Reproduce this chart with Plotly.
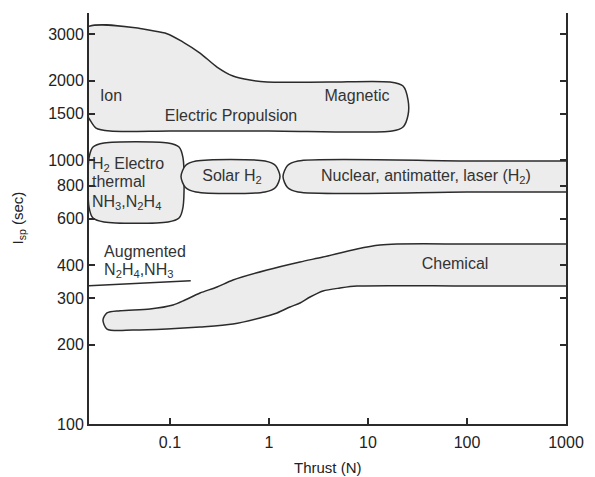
import plotly.graph_objects as go

# ---- data (thrust in N, Isp in sec) ----
electric_thrust = [0.01385, 0.0498, 0.0628, 0.0933, 0.1354, 0.201, 0.2985, 0.433, 0.643, 0.955, 4.0, 16.7,
                   22.6, 25.4, 25.4, 22.6, 17.5, 1.0, 0.1, 0.0248, 0.0179, 0.01556, 0.01385, 0.01385]
electric_isp = [3150, 3150, 3100, 3010, 2799, 2543, 2251, 2081, 2009, 1975, 1975, 1975,
                1907, 1688, 1481, 1334, 1288, 1288, 1288, 1288, 1322, 1418, 1547, 3150]

electro_thrust = [0.01521, 0.01669, 0.02156, 0.0955, 0.1234, 0.1354, 0.1354, 0.1234, 0.0955, 0.02156, 0.01669,
                  0.01521, 0.01521]
electro_isp = [1018, 1120, 1160, 1160, 1120, 1018, 663.7, 603, 582.3, 582.3, 603, 663.7, 1018]

solar_thrust = [0.1831, 0.9116, 1.164, 1.292, 1.164, 0.9116, 0.1831, 0.1434, 0.1292, 0.1434, 0.1831]
solar_isp = [991.3, 991.3, 953.2, 865.9, 786.7, 756.6, 756.6, 786.7, 865.9, 953.2, 991.3]

nuclear_thrust = [1.964, 100, 1000, 1500, 1500, 1000, 100, 1.964, 1.539, 1.385, 1.539, 1.964]
nuclear_isp = [991.3, 991.3, 991.3, 991.3, 756.6, 756.6, 756.6, 756.6, 786.7, 865.9, 953.2, 991.3]

chem_thrust = [0.02105, 0.0231, 0.0313, 0.0628, 0.1073, 0.1418, 0.201, 0.2985, 0.433, 0.955, 2.058, 3.51,
               7.74, 13.2, 19.6, 100, 1000, 1500, 1500, 1000, 100, 7.74, 5.22, 3.51, 2.60, 2.058, 1.63,
               1.205, 0.811, 0.433, 0.201, 0.0933, 0.0423, 0.0231, 0.02105]
chem_isp = [247.8, 263.4, 268.5, 272.7, 282.4, 294.9, 313.4, 330.3, 351.2, 383.1, 410.8, 429.1,
            460.2, 476.4, 480.6, 481, 481, 481, 333.2, 333.2, 333.2, 333.2, 327.5, 319.0, 302.7, 287.3, 277.5,
            263.4, 252.1, 239.2, 233.0, 229.0, 227.0, 229.0, 247.8]

augmented_thrust = [0.01521, 0.162]
augmented_isp = [334.2, 349.0]

x_tickvals = [0.1, 1, 10, 100, 1000]
x_ticktext = ["0.1", "1", "10", "100", "1000"]
y_tickvals = [100, 200, 300, 400, 600, 800, 1000, 1500, 2000, 3000]
y_ticktext = ["100", "200", "300", "400", "600", "800", "1000", "1500", "2000", "3000"]

label_left_text = ["Ion", "H<sub>2</sub> Electro", "thermal", "NH<sub>3</sub>,N<sub>2</sub>H<sub>4</sub>",
                   "Augmented", "N<sub>2</sub>H<sub>4</sub>,NH<sub>3</sub>"]
label_left_x = [0.0196, 0.0163, 0.0163, 0.0163, 0.0216, 0.0216]
label_left_y = [1732, 957, 818, 687, 445.6, 380.8]

label_center_text = ["Magnetic", "Electric Propulsion", "Solar H<sub>2</sub>",
                     "Nuclear, antimatter, laser (H<sub>2</sub>)", "Chemical"]
label_center_x = [7.74, 0.4133, 0.423, 38.5, 75.7]
label_center_y = [1732, 1455, 862, 862, 400.4]

x_title = "Thrust (N)"
y_title = "I<sub>sp</sub> (sec)"

FONT = "Liberation Sans, Arial, Helvetica, sans-serif"
LINE = "#2b2b2b"
FILL = "#ececec"

fig = go.Figure()

def region(xs, ys):
    fig.add_trace(go.Scatter(
        x=xs, y=ys, mode="lines", fill="toself", fillcolor=FILL,
        line=dict(color=LINE, width=1.5, shape="spline", smoothing=0.8),
        hoverinfo="skip", showlegend=False))

region(electric_thrust, electric_isp)
region(electro_thrust, electro_isp)
region(solar_thrust, solar_isp)
region(nuclear_thrust, nuclear_isp)
region(chem_thrust, chem_isp)

fig.add_trace(go.Scatter(x=augmented_thrust, y=augmented_isp, mode="lines",
                         line=dict(color=LINE, width=1.5), showlegend=False, hoverinfo="skip"))

fig.add_trace(go.Scatter(x=label_left_x, y=label_left_y, mode="text", text=label_left_text,
                         textposition="middle right", textfont=dict(family=FONT, size=16, color="#333"),
                         showlegend=False, hoverinfo="skip"))
fig.add_trace(go.Scatter(x=label_center_x, y=label_center_y, mode="text", text=label_center_text,
                         textposition="middle center", textfont=dict(family=FONT, size=16, color="#333"),
                         showlegend=False, hoverinfo="skip"))

axis_common = dict(showgrid=False, zeroline=False, showline=True, linecolor=LINE, linewidth=2,
                   ticks="inside", ticklen=6, tickwidth=1.5, tickcolor=LINE, automargin=False,
                   tickfont=dict(family=FONT, size=16, color="#222"))

fig.update_xaxes(type="log", range=[-1.818, 3], tickvals=x_tickvals, ticktext=x_ticktext,
                 ticklabelstandoff=3, mirror=False, **axis_common)
fig.update_yaxes(type="log", range=[2, 3.557], tickvals=y_tickvals, ticktext=y_ticktext,
                 mirror="ticks", **axis_common)

fig.add_annotation(text=x_title, xref="paper", yref="paper", x=0.5, y=0, yanchor="middle",
                   yshift=-43, showarrow=False, font=dict(family=FONT, size=15, color="#222"))
fig.add_annotation(text=y_title, xref="paper", yref="paper", x=0, y=0.5, xanchor="center",
                   xshift=-71, textangle=-90, showarrow=False, font=dict(family=FONT, size=15, color="#222"))

fig.update_layout(width=595, height=477, margin=dict(l=89, r=29, t=13, b=53),
                  plot_bgcolor="white", paper_bgcolor="white", font=dict(family=FONT))

fig.write_html("out.html", post_script="document.body.style.margin='0px';",
               config={"displayModeBar": False})
